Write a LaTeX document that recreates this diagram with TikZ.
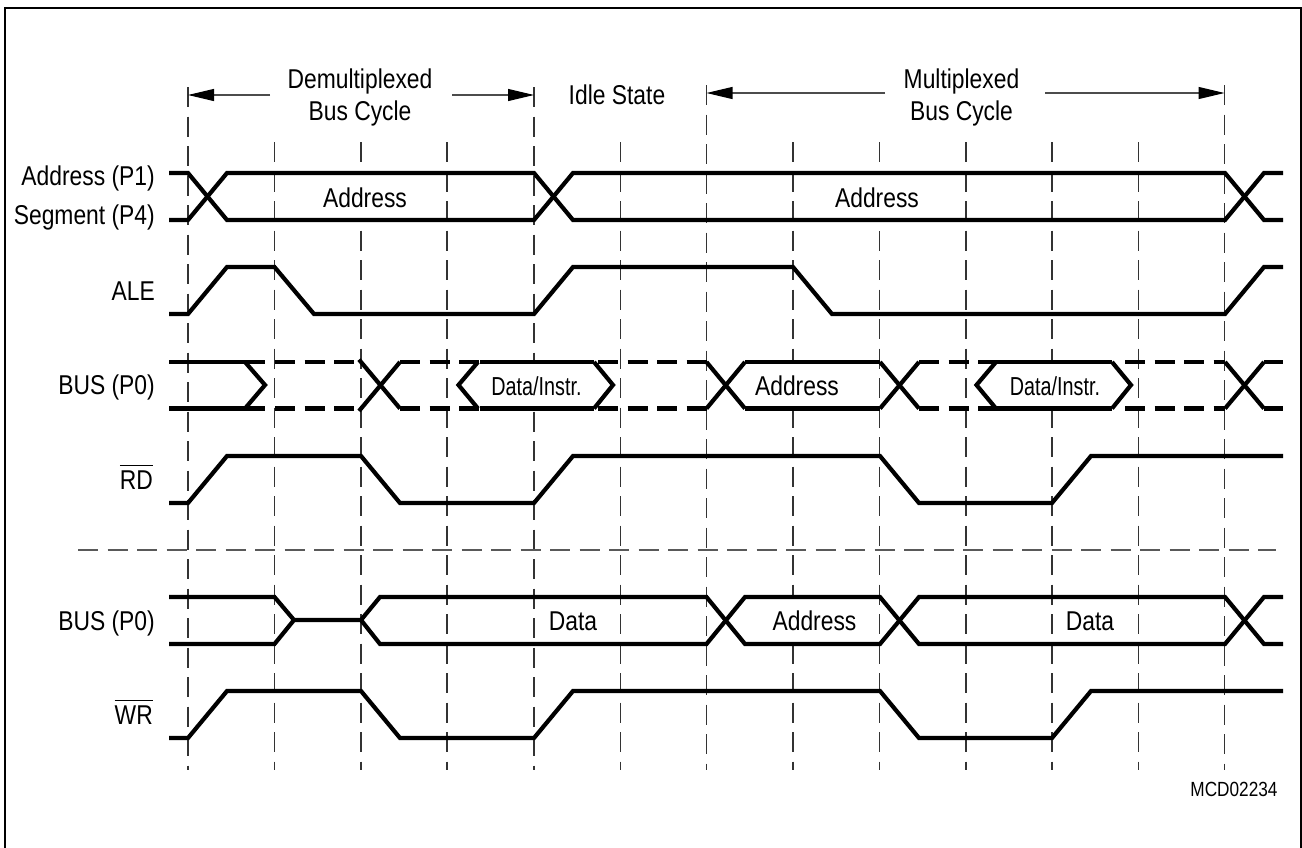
\documentclass[tikz,border=0pt]{standalone}
\usepackage{fontspec}
\setmainfont{Liberation Sans}[FakeStretch=0.84]
\newfontfamily\narrowfont{Liberation Sans}[FakeStretch=0.76]
\usetikzlibrary{arrows.meta}
\newcommand{\ovl}[1]{\ensuremath{\overline{\hbox{\rule{0pt}{22.5pt}#1}}}}
\tikzset{
  sig/.style={line width=4.2pt,miter limit=10,line join=miter,black},
  dsig/.style={sig,dash pattern=on 20pt off 9.5pt},
  grid/.style={line width=1.1pt,black!80,dash pattern=on 20pt off 9.5pt},
  sep/.style={line width=1.1pt,black!65,dash pattern=on 20pt off 9.5pt},
  mask/.style={fill=white},
  frame/.style={line width=2pt,black},
  dim/.style={line width=1.1pt,black!70,-{Triangle[length=26pt,width=12pt,color=black,fill=black]}},
  lab/.style={font=\fontsize{27.2}{31.3}\selectfont,inner sep=0pt,text=black,anchor=base},
  tlab/.style={lab,align=center},
  rlab/.style={lab,anchor=base east},
  small/.style={font=\fontsize{26}{28}\narrowfont,inner sep=0pt,text=black,anchor=base},
  tiny/.style={font=\fontsize{20.5}{22}\selectfont,inner sep=0pt,text=black,anchor=base}
}
\begin{document}
\begin{tikzpicture}[x=1pt,y=-1pt]
\useasboundingbox (0,0) rectangle (1302,847);
\draw[frame] (5,850) -- (5,8) -- (1301,8) -- (1301,850);
% vertical time grid
\foreach \x in {188,534}{\draw[grid] (\x,87) -- (\x,770);}
\foreach \x in {706.5,1224.5}{\draw[grid] (\x,85) -- (\x,770);}
\foreach \x in {274.5,361,447,620.5,793,879.5,966,1052,1138.5}{\draw[grid] (\x,142) -- (\x,770);}
\draw[sep] (78,550) -- (1276,550);
% the time grid is interrupted behind the inner labels
\fill[mask] (355,174) rectangle (367,221);
\fill[mask] (874,174) rectangle (885,231);
\fill[mask] (528,363) rectangle (540,408);
\fill[mask] (1047,363) rectangle (1057,408);
\fill[mask] (788,363) rectangle (798,408);
\fill[mask] (788,598) rectangle (798,643);
% dimension arrows
\coordinate (a1) at (270,95); \coordinate (a1t) at (188,95);
\coordinate (a2) at (452,95); \coordinate (a2t) at (534,95);
\coordinate (a3) at (885,93); \coordinate (a3t) at (706.5,93);
\coordinate (a4) at (1045,93); \coordinate (a4t) at (1224.5,93);
\draw[dim] (a1) -- (a1t);
\draw[dim] (a2) -- (a2t);
\draw[dim] (a3) -- (a3t);
\draw[dim] (a4) -- (a4t);
\node[tlab] (tdemux) at (360,120) {Demultiplexed\\Bus Cycle};
\node[lab] (tidle) at (617,104) {Idle State};
\node[tlab] (tmux) at (961.5,120) {Multiplexed\\Bus Cycle};
% Address / Segment
\draw[sig] (169,173) -- (188,173) -- (227,220) -- (534,220) -- (573,173) -- (1225,173) -- (1264,220) -- (1283,220);
\draw[sig] (169,220) -- (188,220) -- (227,173) -- (534,173) -- (573,220) -- (1225,220) -- (1264,173) -- (1283,173);
% ALE
\draw[sig] (169,314) -- (188,314) -- (227,267) -- (274.5,267) -- (314,314) -- (534,314) -- (573,267) -- (793,267) -- (832,314) -- (1225,314) -- (1264,267) -- (1283,267);
% BUS read
\draw[sig] (169,362) -- (265,362);
\draw[sig] (169,408.5) -- (265,408.5);
\draw[sig] (245,362) -- (265,385) -- (245,408.5);
\foreach \y in {362,408.5}{
  \draw[dsig] (275,\y) -- (361,\y);
  \draw[dsig] (400,\y) -- (480,\y);
  \draw[dsig] (598,\y) -- (706.5,\y);
  \draw[dsig] (919,\y) -- (998,\y);
  \draw[dsig] (1125,\y) -- (1225,\y);
  \draw[sig] (480,\y) -- (594,\y);
  \draw[sig] (998,\y) -- (1112,\y);
  \draw[sig] (745,\y) -- (880,\y);
  \draw[sig] (1264,\y) -- (1283,\y);
}
\draw[sig] (359,359.6) -- (400,408.5);
\draw[sig] (359,411) -- (400,362);
\draw[sig] (478,362) -- (458.5,385) -- (478,408.5);
\draw[sig] (594,362) -- (613,385) -- (594,408.5);
\draw[sig] (706.5,362) -- (745,408.5);
\draw[sig] (706.5,408.5) -- (745,362);
\draw[sig] (880,362) -- (919,408.5);
\draw[sig] (880,408.5) -- (919,362);
\draw[sig] (996,362) -- (976.5,385) -- (996,408.5);
\draw[sig] (1112,362) -- (1131,385) -- (1112,408.5);
\draw[sig] (1225,362) -- (1264,408.5);
\draw[sig] (1225,408.5) -- (1264,362);
% RD
\draw[sig] (169,503) -- (188,503) -- (227,456) -- (361,456) -- (400,503) -- (534,503) -- (573,456) -- (880,456) -- (919,503) -- (1052,503) -- (1091,456) -- (1283,456);
% BUS write
\draw[sig] (169,597) -- (274.5,597) -- (294,620) -- (361,620) -- (380,597) -- (706.5,597) -- (745,644) -- (880,644) -- (919,597) -- (1225,597) -- (1264,644) -- (1283,644);
\draw[sig] (169,644) -- (274.5,644) -- (294,620) (361,620) -- (380,644) -- (706.5,644) -- (745,597) -- (880,597) -- (919,644) -- (1225,644) -- (1264,597) -- (1283,597);
% WR
\draw[sig] (169,738) -- (188,738) -- (227,691) -- (361,691) -- (400,738) -- (534,738) -- (573,691) -- (880,691) -- (919,738) -- (1052,738) -- (1091,691) -- (1283,691);
% row labels
\node[rlab] (l1) at (155,185) {Address (P1)};
\node[rlab] (l2) at (155,224.5) {Segment (P4)};
\node[rlab] (l3) at (155,300.5) {ALE};
\node[rlab] (l4) at (155,394.5) {BUS (P0)};
\node[rlab] (l5) at (153,489) {\ovl{RD}};
\node[rlab] (l6) at (155,630) {BUS (P0)};
\node[rlab] (l7) at (153,724) {\ovl{WR}};
% inner labels
\node[lab] (i1) at (365,207) {Address};
\node[lab] (i2) at (877,207) {Address};
\node[small] (i3) at (536.5,395) {Data/Instr.};
\node[lab] (i4) at (797,395) {Address};
\node[small] (i5) at (1055,395) {Data/Instr.};
\node[lab] (i6) at (573,630) {Data};
\node[lab] (i7) at (814.5,630) {Address};
\node[lab] (i8) at (1090,630) {Data};
\node[tiny] (code) at (1234,796.5) {MCD02234};
\end{tikzpicture}
\end{document}
